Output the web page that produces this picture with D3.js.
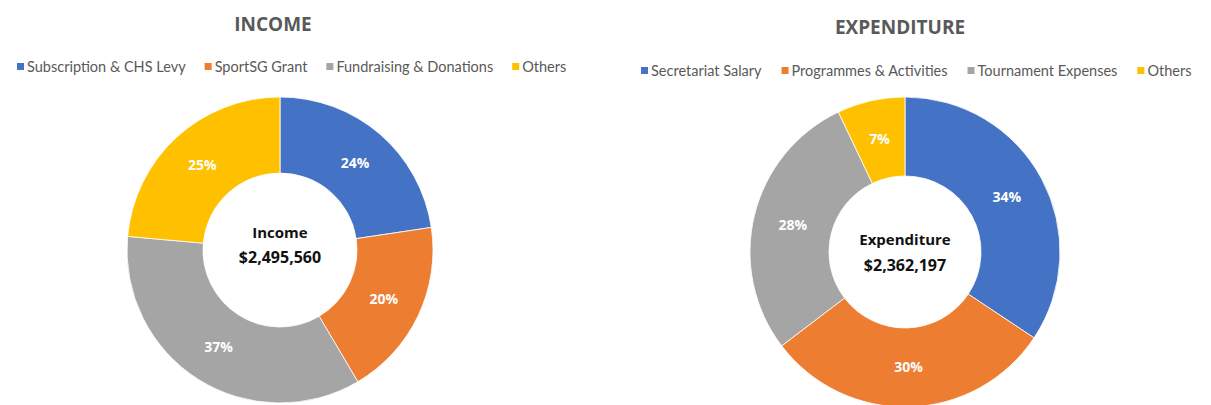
<!DOCTYPE html>
<html><head><meta charset="utf-8">
<script src="https://cdn.jsdelivr.net/npm/d3@7"></script>
<style>
html,body{margin:0;padding:0;background:#fff;}
svg{display:block;}
</style></head>
<body><svg id="chart" width="1211" height="405"></svg>
<script>
const incomeCategories = ["Subscription & CHS Levy", "SportSG Grant", "Fundraising & Donations", "Others"];
const incomeValues = [24, 20, 37, 25];
const incomeTotal = "$2,495,560";
const expenditureCategories = ["Secretariat Salary", "Programmes & Activities", "Tournament Expenses", "Others"];
const expenditureValues = [34, 30, 28, 7];
const expenditureTotal = "$2,362,197";
const colors = ["#4472C4", "#ED7D31", "#A5A5A5", "#FFC000"];

const svg = d3.select("#chart");
const FONT = "Lato, 'Open Sans', sans-serif";

function drawPanel(cfg) {
  const g = svg.append("g");
  g.append("text").attr("x", cfg.titleX).attr("y", cfg.titleY)
    .attr("text-anchor", "middle").attr("font-family", "'Open Sans', sans-serif")
    .attr("font-weight", 700).attr("font-size", 19).attr("fill", "#595959")
    .text(cfg.title);

  // legend
  const leg = g.append("g").attr("transform", `translate(${cfg.legendX},${cfg.legendY})`);
  let x = 0;
  cfg.categories.forEach((c, i) => {
    const item = leg.append("g").attr("transform", `translate(${x},0)`);
    item.append("rect").attr("x", 0).attr("y", -4).attr("width", 7).attr("height", 7).attr("fill", colors[i]);
    const t = item.append("text").attr("x", 10).attr("y", 0).attr("dy", "0.35em")
      .attr("font-family", FONT).attr("font-size", cfg.legendFont).attr("fill", "#595959").text(c);
    const w = t.node().getComputedTextLength();
    x += 10 + w + cfg.legendGap;
  });

  const pie = d3.pie().sort(null).value(d => d);
  const arcs = pie(cfg.values);
  const arc = d3.arc().innerRadius(cfg.r).outerRadius(cfg.R);
  const labelArc = d3.arc().innerRadius((cfg.r + cfg.R) / 2).outerRadius((cfg.r + cfg.R) / 2);
  const dg = g.append("g").attr("transform", `translate(${cfg.cx},${cfg.cy})`);
  dg.selectAll("path").data(arcs).join("path")
    .attr("d", arc).attr("fill", (d, i) => colors[i])
    .attr("stroke", "#fff").attr("stroke-width", 0.8);
  dg.selectAll("text.pct").data(arcs).join("text").attr("class", "pct")
    .attr("transform", d => `translate(${labelArc.centroid(d)})`)
    .attr("text-anchor", "middle").attr("dy", "0.35em")
    .attr("font-family", "'Open Sans', sans-serif").attr("font-weight", 700)
    .attr("font-size", 14).attr("fill", "#fff")
    .text(d => d.data + "%");
  dg.append("text").attr("text-anchor", "middle").attr("y", cfg.labelDy).attr("dy", "0.35em")
    .attr("font-family", "'Open Sans', sans-serif").attr("font-weight", 700)
    .attr("font-size", 15).attr("fill", "#111").text(cfg.centerLabel);
  dg.append("text").attr("text-anchor", "middle").attr("y", cfg.valueDy).attr("dy", "0.35em")
    .attr("font-family", "'Open Sans', sans-serif").attr("font-weight", 700)
    .attr("font-size", 16).attr("fill", "#111").text(cfg.centerValue);
}

drawPanel({title: "INCOME", titleX: 273, titleY: 31, categories: incomeCategories, values: incomeValues,
  legendX: 17, legendY: 67, legendGap: 19, legendFont: 14.5, cx: 280, cy: 250, R: 153, r: 77,
  centerLabel: "Income", centerValue: incomeTotal, labelDy: -17, valueDy: 7});
drawPanel({title: "EXPENDITURE", titleX: 900, titleY: 34, categories: expenditureCategories, values: expenditureValues,
  legendX: 641, legendY: 71, legendGap: 20, legendFont: 14.5, cx: 905, cy: 252, R: 155, r: 76,
  centerLabel: "Expenditure", centerValue: expenditureTotal, labelDy: -12, valueDy: 13});
</script>
</body></html>
